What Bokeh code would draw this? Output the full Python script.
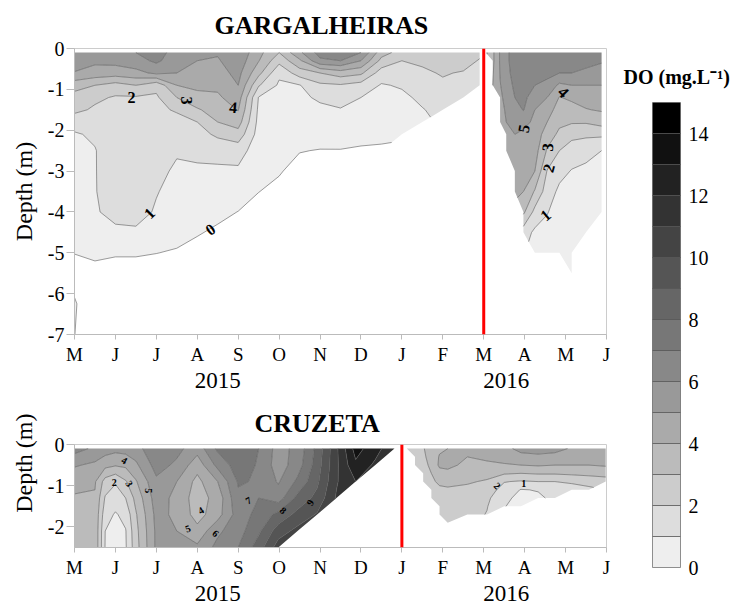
import numpy as np
from bokeh.plotting import figure
from bokeh.layouts import row, column
from bokeh.models import Range1d, FixedTicker, LinearAxis, Span, Title
from bokeh.core.properties import value
from bokeh.embed import file_html
from bokeh.resources import INLINE

NAN = float("nan")
FONT = "'Liberation Serif', 'Times New Roman', serif"

# ---------------- shared axis data ----------------
month_ticks = list(range(14))                      # months since May 2015
month_labels = ["M", "J", "J", "A", "S", "O", "N", "D", "J", "F", "M", "A", "M", "J"]
year_ticks = [3.5, 10.55]
year_labels = ["2015", "2016"]
do_levels = list(range(16))                        # DO classes, mg/L
cb_ticks = list(range(0, 15, 2))

# ---------------- GARGALHEIRAS ----------------
gar_event_month = 10
gar_depth_ticks = [0, -1, -2, -3, -4, -5, -6, -7]

# May 2015 - Feb 2016 profiles (month position -> DO per depth)
gar_depths_a = [-0.1, -0.3, -0.6, -0.9, -1.2, -1.5, -1.8, -2.1, -2.5, -3.0, -3.5, -4.0, -4.5, -5.0, -5.5, -6.25, -7.0]
gar_months_a = [0, 0.5, 1, 1.5, 2, 2.5, 3, 3.5, 4, 4.5, 5, 5.5, 6, 6.5, 7, 7.5, 8, 8.5, 9, 9.5, 9.9]
gar_a_00 = [5.6, 5.4, 4.95, 3.4, 2.6, 2.25, 1.4, 0.9, 0.8, 0.7, 0.6, 0.45, 0.25, 0.02, -0.3, 0.08, 0.02]
gar_a_05 = [5.5, 5.2, 4.6, 3.0, 2.2, 1.85, 1.5, 1.15, 0.95, 0.95, 0.95, 0.9, 0.6, 0.2, -0.3, -0.6, -0.9]
gar_a_10 = [5.6, 5.3, 4.5, 2.6, 1.9, 1.8, 1.75, 1.7, 1.65, 1.6, 1.5, 1.3, 0.8, 0.1, -0.4, -0.7, -1.0]
gar_a_15 = [6.0, 5.6, 4.7, 3.0, 1.9, 1.8, 1.8, 1.75, 1.7, 1.65, 1.55, 1.35, 0.85, 0.1, -0.4, -0.7, -1.0]
gar_a_20 = [6.4, 6.2, 5.2, 2.3, 1.85, 1.8, 1.75, 1.7, 1.5, 1.25, 1.05, 0.9, 0.6, 0.02, -0.5, -0.8, -1.0]
gar_a_25 = [5.6, 5.4, 5.0, 4.0, 3.0, 2.1, 1.7, 1.4, 1.1, 0.85, 0.7, 0.55, 0.35, -0.1, -0.6, -0.9, -1.0]
gar_a_30 = [5.2, 5.0, 4.8, 4.3, 3.6, 2.9, 2.0, 1.6, 1.15, 0.9, 0.75, 0.5, 0.1, -0.4, -0.8, -1.0, -1.0]
gar_a_35 = [5.1, 4.9, 4.6, 4.2, 3.85, 3.4, 3.0, 2.2, 1.3, 0.85, 0.6, 0.3, -0.2, -0.7, -1.0, -1.0, -1.0]
gar_a_40 = [5.8, 5.6, 5.3, 5.0, 4.5, 4.05, 3.45, 2.6, 1.4, 0.85, 0.55, -0.02, -0.4, -0.8, -1.0, -1.0, -1.0]
gar_a_45 = [4.3, 4.05, 3.3, 2.1, 0.95, 0.8, 0.7, 0.6, 0.5, 0.3, 0.02, -0.4, -0.8, -1.0, -1.0, -1.0, -1.0]
gar_a_50 = [3.0, 2.3, 1.2, 0.85, 0.75, 0.7, 0.6, 0.5, 0.35, 0.1, -0.3, -0.7, -1.0, -1.0, -1.0, -1.0, -1.0]
gar_a_55 = [4.8, 3.8, 2.5, 0.95, 0.8, 0.7, 0.6, 0.45, 0.05, -0.4, -0.8, -1.0, -1.0, -1.0, -1.0, -1.0, -1.0]
gar_a_60 = [6.4, 5.8, 3.0, 1.8, 1.15, 0.8, 0.65, 0.5, -0.05, -0.5, -0.9, -1.0, -1.0, -1.0, -1.0, -1.0, -1.0]
gar_a_65 = [6.6, 6.0, 3.5, 1.9, 1.3, 0.95, 0.75, 0.55, -0.05, -0.5, -0.9, -1.0, -1.0, -1.0, -1.0, -1.0, -1.0]
gar_a_70 = [6.0, 5.0, 3.2, 1.6, 1.0, 0.85, 0.7, 0.5, -0.2, -0.6, -1.0, -1.0, -1.0, -1.0, -1.0, -1.0, -1.0]
gar_a_75 = [3.4, 2.7, 1.5, 0.92, 0.8, 0.65, 0.5, 0.3, -0.2, -0.6, -1.0, -1.0, -1.0, -1.0, -1.0, -1.0, -1.0]
gar_a_80 = [2.6, 2.0, 1.6, 1.1, 0.8, 0.6, 0.4, 0.2]
gar_a_85 = [2.7, 2.2, 1.8, 1.5, 1.2, 0.95, 0.8]
gar_a_90 = [2.8, 2.5, 2.1, 1.8, 1.5, 1.3]
gar_a_95 = [2.9, 2.5, 1.9, 1.6, 1.4]
gar_a_99 = [2.3, 1.9, 1.7, 1.5]

# Mar - Jun 2016 profiles
gar_depths_b = [-0.1, -0.3, -0.6, -0.9, -1.2, -1.5, -1.8, -2.1, -2.5, -3.0, -3.5, -4.0, -4.5, -5.0, -5.5]
gar_months_b = [10.05, 10.22, 10.40, 10.55, 10.76, 10.97, 11.25, 11.55, 11.85, 12.15, 12.5, 12.88]
gar_b_1005 = [2.8]
gar_b_1022 = [3.8, 3.8, 3.9, 4.0]
gar_b_1040 = [5.1, 5.1, 5.05, 4.95, 4.8, 4.6, 4.5]
gar_b_1055 = [5.8, 5.8, 5.7, 5.5, 5.3, 5.15, 5.0, 4.9, 4.8]
gar_b_1076 = [6.4, 6.4, 6.35, 6.2, 6.0, 5.6, 5.2, 5.0, 4.85, 4.6, 4.35]
gar_b_1097 = [6.7, 6.7, 6.6, 6.5, 6.3, 6.05, 5.3, 4.8, 4.6, 4.4, 4.0, 3.2, 1.5]
gar_b_1125 = [6.7, 6.6, 6.4, 6.0, 5.4, 5.0, 4.8, 4.6, 4.4, 4.0, 2.9, 1.7, 0.8, 0.4]
gar_b_1155 = [6.7, 6.6, 6.3, 5.7, 5.0, 4.5, 4.0, 3.5, 2.9, 1.95, 1.5, 1.05, 0.7, 0.4]
gar_b_1185 = [6.6, 6.4, 6.0, 4.8, 3.95, 3.5, 3.2, 2.8, 2.0, 1.3, 0.8, 0.6, 0.5, 0.4]
gar_b_1215 = [6.6, 6.4, 6.0, 5.0, 4.2, 3.6, 3.1, 2.3, 1.5, 0.95, 0.7, 0.55, 0.45, 0.35, 0.2]
gar_b_1250 = [6.5, 6.3, 5.8, 5.0, 4.4, 3.95, 3.1, 2.2, 1.3, 0.8, 0.6, 0.5, 0.4]
gar_b_1288 = [6.3, 6.1, 5.6, 5.0, 4.5, 4.1, 3.4, 2.2, 1.0, 0.7, 0.55, 0.45]

gar_lbl_month = [1.39, 2.73, 3.88, 1.83, 3.32, 10.98, 11.95, 11.56, 11.59, 11.51]
gar_lbl_depth = [-1.2, -1.27, -1.44, -4.03, -4.43, -1.96, -1.07, -2.42, -2.93, -4.08]
gar_lbl_text = ["2", "3", "4", "1", "0", "5", "4", "3", "2", "1"]
gar_lbl_angle = [0, -90, -5, 45, 35, 80, -45, 85, 75, 40]

# ---------------- CRUZETA ----------------
cru_event_month = 8
cru_depth_ticks = [0, -1, -2]

cru_depths_a = [-0.1, -0.5, -0.9, -1.3, -1.7, -2.1, -2.5]
cru_months_a = [0, 0.5, 0.75, 1, 1.25, 1.5, 2, 2.5, 3, 3.5, 4, 4.5, 4.98, 5.45, 5.93, 6.4, 6.87, 7.35, 7.82]
cru_a_000 = [6.4, 5.1, 4.3, 3.9, 3.7, 3.6, 3.6]
cru_a_050 = [5.8, 4.8, 4.1, 3.9, 3.8, 3.8, 3.8]
cru_a_075 = [5.5, 4.3, 2.6, 1.9, 1.4, 1.0, 0.95]
cru_a_100 = [5.3, 4.1, 2.1, 1.5, 0.9, 0.6, 0.55]
cru_a_125 = [5.4, 4.2, 2.9, 2.0, 1.3, 0.95, 0.9]
cru_a_150 = [5.6, 4.8, 3.9, 3.3, 2.9, 2.7, 2.6]
cru_a_200 = [6.8, 6.4, 5.8, 5.5, 5.3, 5.2, 5.2]
cru_a_250 = [6.3, 5.8, 5.0, 4.7, 4.8, 5.0, 5.3]
cru_a_300 = [5.4, 4.4, 3.7, 3.5, 3.6, 4.3, 5.2]
cru_a_350 = [7.2, 6.3, 5.0, 4.4, 4.6, 5.8, 6.3]
cru_a_400 = [7.8, 7.5, 7.1, 6.8, 6.5, 6.6, 7.0]
cru_a_450 = [7.0, 6.9, 6.9, 7.0, 7.3, 7.8, 8.5]
cru_a_498 = [5.6, 5.5, 5.9, 6.5, 8.3, 9.5, 10.5]
cru_a_545 = [6.3, 6.5, 7.2, 8.3, 9.3, 10.3]
cru_a_593 = [8.3, 8.5, 8.8, 9.3, 10.1]
cru_a_640 = [10.8, 10.8, 10.9, 11.1]
cru_a_687 = [13.4, 12.8, 12.0]
cru_a_735 = [12.4, 11.8]
cru_a_782 = [11.2]

cru_depths_b = [-0.1, -0.3, -0.5, -0.7, -0.9, -1.1, -1.3, -1.5, -1.7, -1.9]
cru_months_b = [8.12, 8.32, 8.52, 8.72, 8.92, 9.12, 9.6, 10.08, 10.5, 10.91, 11.33, 11.74, 12.15, 12.57, 12.98]
cru_b_812 = [2.5]
cru_b_832 = [2.7, 2.7, 2.65]
cru_b_852 = [2.95, 2.9, 2.85, 2.8, 2.75]
cru_b_872 = [3.3, 3.2, 3.1, 3.0, 2.9, 2.8, 2.7]
cru_b_892 = [3.8, 4.1, 4.2, 3.6, 3.1, 2.9, 2.8, 2.7, 2.6]
cru_b_912 = [4.0, 4.3, 4.3, 3.7, 3.2, 2.9, 2.75, 2.65, 2.55, 2.5]
cru_b_960 = [4.2, 4.0, 3.7, 3.4, 3.1, 2.8, 2.6, 2.45, 2.4]
cru_b_1008 = [4.4, 4.2, 3.8, 3.3, 2.9, 2.5, 2.2, 2.05, 1.95]
cru_b_1050 = [4.7, 4.4, 3.9, 3.1, 2.05, 1.6, 1.25, 1.05]
cru_b_1091 = [5.3, 4.7, 4.0, 3.0, 1.9, 0.95, 0.7, 0.6]
cru_b_1133 = [5.4, 4.8, 4.1, 3.1, 2.0, 1.05, 0.85]
cru_b_1174 = [5.3, 4.7, 4.0, 3.1, 2.0, 1.5, 1.2]
cru_b_1215 = [4.9, 4.6, 4.0, 3.2, 2.1, 1.7]
cru_b_1257 = [4.9, 4.6, 4.0, 3.3, 2.3, 1.8]
cru_b_1298 = [4.9, 4.6, 4.1, 3.4, 2.5]

cru_lbl_month = [1.22, 0.97, 1.34, 1.8, 3.09, 2.77, 3.45, 4.25, 5.1, 5.76, 10.33, 10.98]
cru_lbl_depth = [-0.39, -0.92, -0.95, -1.12, -1.6, -2.04, -2.16, -1.36, -1.6, -1.41, -1.0, -0.95]
cru_lbl_text = ["4", "2", "3", "5", "4", "5", "6", "7", "8", "9", "2", "1"]
cru_lbl_angle = [-30, 0, -60, -90, 30, 20, -40, 30, -40, 60, -45, 0]

# ---------------- styles ----------------
do_palette = ["#eeeeee", "#dddddd", "#cccccc", "#bbbbbb", "#aaaaaa", "#999999", "#888888",
              "#777777", "#666666", "#555555", "#444444", "#333333", "#222222", "#111111", "#000000"]
LINE_COL = "#5a5a5a"
AXIS_COL = "#bbbbbb"


def make_grid(months, depths, profiles):
    n = len(depths)
    cols = [list(p) + [NAN] * (n - len(p)) for p in profiles]
    z = np.array(cols, dtype=float).T
    d = np.array(depths, dtype=float)
    order = np.argsort(d)
    return np.array(months, dtype=float), d[order], z[order, :]


def add_field(p, months, depths, profiles):
    x, y, z = make_grid(months, depths, profiles)
    cr = p.contour(x, y, z, levels=do_levels, fill_color=do_palette,
                   line_color=LINE_COL, line_width=0.6)
    try:
        cr.fill_renderer.glyph.line_color = None
    except Exception:
        pass
    return cr


def make_panel(title, title_offset, title_standoff, ymin, yticks, height, mtop, mbottom, mright,
               ylab_align, ylab_offset):
    p = figure(width=613, height=height, x_range=Range1d(0, 13), y_range=Range1d(ymin, 0),
               output_backend="svg", toolbar_location=None, title=title,
               min_border_left=73, min_border_right=mright,
               min_border_top=mtop, min_border_bottom=mbottom)
    p.background_fill_color = "white"
    p.border_fill_color = "white"
    p.outline_line_color = "#cccccc"
    p.grid.visible = False

    p.title.text_font = FONT
    p.title.text_font_size = "26px"
    p.title.text_font_style = "bold"
    p.title.text_color = "black"
    p.title.align = "left"
    p.title.offset = title_offset
    p.title.standoff = title_standoff

    xa = p.xaxis[0]
    xa.ticker = FixedTicker(ticks=month_ticks)
    xa.major_label_overrides = {t: l for t, l in zip(month_ticks, month_labels)}
    xa.axis_line_color = AXIS_COL
    xa.major_tick_line_color = AXIS_COL
    xa.minor_tick_line_color = None
    xa.major_tick_out = 5
    xa.major_tick_in = 0
    xa.major_label_standoff = 4
    xa.major_label_text_font = FONT
    xa.major_label_text_font_size = "19px"
    xa.major_label_text_color = "black"

    ya = p.yaxis[0]
    ya.ticker = FixedTicker(ticks=yticks)
    ya.major_label_overrides = {t: ("0" if t == 0 else "-%d" % (-t)) for t in yticks}
    ya.axis_line_color = AXIS_COL
    ya.major_tick_line_color = AXIS_COL
    ya.minor_tick_line_color = None
    ya.major_tick_out = 8
    ya.major_tick_in = 0
    ya.major_label_standoff = 2
    ya.major_label_text_font = FONT
    ya.major_label_text_font_size = "20px"
    ya.major_label_text_color = "black"

    yr = LinearAxis(ticker=FixedTicker(ticks=year_ticks),
                    major_label_overrides={t: l for t, l in zip(year_ticks, year_labels)},
                    axis_line_color=None, major_tick_line_color=None, minor_tick_line_color=None,
                    major_tick_out=0, major_tick_in=0, major_label_standoff=5,
                    major_label_text_font=FONT, major_label_text_font_size="23px",
                    major_label_text_color="black")
    p.add_layout(yr, "below")

    yl = Title(text="Depth (m)", align=ylab_align, offset=ylab_offset, standoff=16,
               text_font=FONT, text_font_size="24px", text_font_style="normal",
               text_color="black")
    p.add_layout(yl, "left")
    return p


# ---------------- top panel ----------------
p1 = make_panel("GARGALHEIRAS", 140, 17, -7, gar_depth_ticks, 400, 48, 66, 7, "center", 0)
add_field(p1, gar_months_a, gar_depths_a,
          [gar_a_00, gar_a_05, gar_a_10, gar_a_15, gar_a_20, gar_a_25, gar_a_30, gar_a_35,
           gar_a_40, gar_a_45, gar_a_50, gar_a_55, gar_a_60, gar_a_65, gar_a_70, gar_a_75,
           gar_a_80, gar_a_85, gar_a_90, gar_a_95, gar_a_99])
add_field(p1, gar_months_b, gar_depths_b,
          [gar_b_1005, gar_b_1022, gar_b_1040, gar_b_1055, gar_b_1076, gar_b_1097,
           gar_b_1125, gar_b_1155, gar_b_1185, gar_b_1215, gar_b_1250, gar_b_1288])
p1.text(x=gar_lbl_month, y=gar_lbl_depth, text=gar_lbl_text, angle=gar_lbl_angle, angle_units="deg",
        text_font=value(FONT), text_font_size="16px", text_font_style="bold",
        text_align="center", text_baseline="middle", text_color="black")
p1.add_layout(Span(location=gar_event_month, dimension="height", line_color="red", line_width=3))

# ---------------- bottom panel ----------------
p2 = make_panel("CRUZETA", 180, 13, -2.5, cru_depth_ticks, 209, 44, 62, 5, "right", -31)
add_field(p2, cru_months_a, cru_depths_a,
          [cru_a_000, cru_a_050, cru_a_075, cru_a_100, cru_a_125, cru_a_150, cru_a_200,
           cru_a_250, cru_a_300, cru_a_350, cru_a_400, cru_a_450, cru_a_498, cru_a_545,
           cru_a_593, cru_a_640, cru_a_687, cru_a_735, cru_a_782])
add_field(p2, cru_months_b, cru_depths_b,
          [cru_b_812, cru_b_832, cru_b_852, cru_b_872, cru_b_892, cru_b_912, cru_b_960,
           cru_b_1008, cru_b_1050, cru_b_1091, cru_b_1133, cru_b_1174, cru_b_1215,
           cru_b_1257, cru_b_1298])
p2.text(x=cru_lbl_month, y=cru_lbl_depth, text=cru_lbl_text, angle=cru_lbl_angle, angle_units="deg",
        text_font=value(FONT), text_font_size="10px", text_font_style="bold",
        text_align="center", text_baseline="middle", text_color="black")
p2.add_layout(Span(location=cru_event_month, dimension="height", line_color="red", line_width=3))

# ---------------- colour bar ----------------
cb = figure(width=123, height=609, x_range=Range1d(0, 1), y_range=Range1d(0, 15),
            x_axis_location=None, y_axis_location="right",
            output_backend="svg", toolbar_location=None, title="DO (mg.L\u207b\u00b9)",
            min_border_left=39, min_border_right=56, min_border_top=102, min_border_bottom=42)
cb.background_fill_color = "white"
cb.border_fill_color = "white"
cb.outline_line_color = "#999999"
cb.grid.visible = False
cb.quad(left=0, right=1, bottom=do_levels[:-1], top=do_levels[1:], fill_color=do_palette,
        line_color="#555555", line_width=0.7)
cya = cb.yaxis[0]
cya.ticker = FixedTicker(ticks=cb_ticks)
cya.axis_line_color = None
cya.major_tick_line_color = None
cya.minor_tick_line_color = None
cya.major_tick_out = 0
cya.major_tick_in = 0
cya.major_label_standoff = 8
cya.major_label_text_font = FONT
cya.major_label_text_font_size = "20px"
cya.major_label_text_color = "black"
cb.title.text_font = FONT
cb.title.text_font_size = "20px"
cb.title.text_font_style = "bold"
cb.title.text_color = "black"
cb.title.align = "left"
cb.title.offset = -29
cb.title.standoff = 30

layout = row(column(p1, p2), cb)
open("out.html", "w").write(file_html(layout, INLINE))
